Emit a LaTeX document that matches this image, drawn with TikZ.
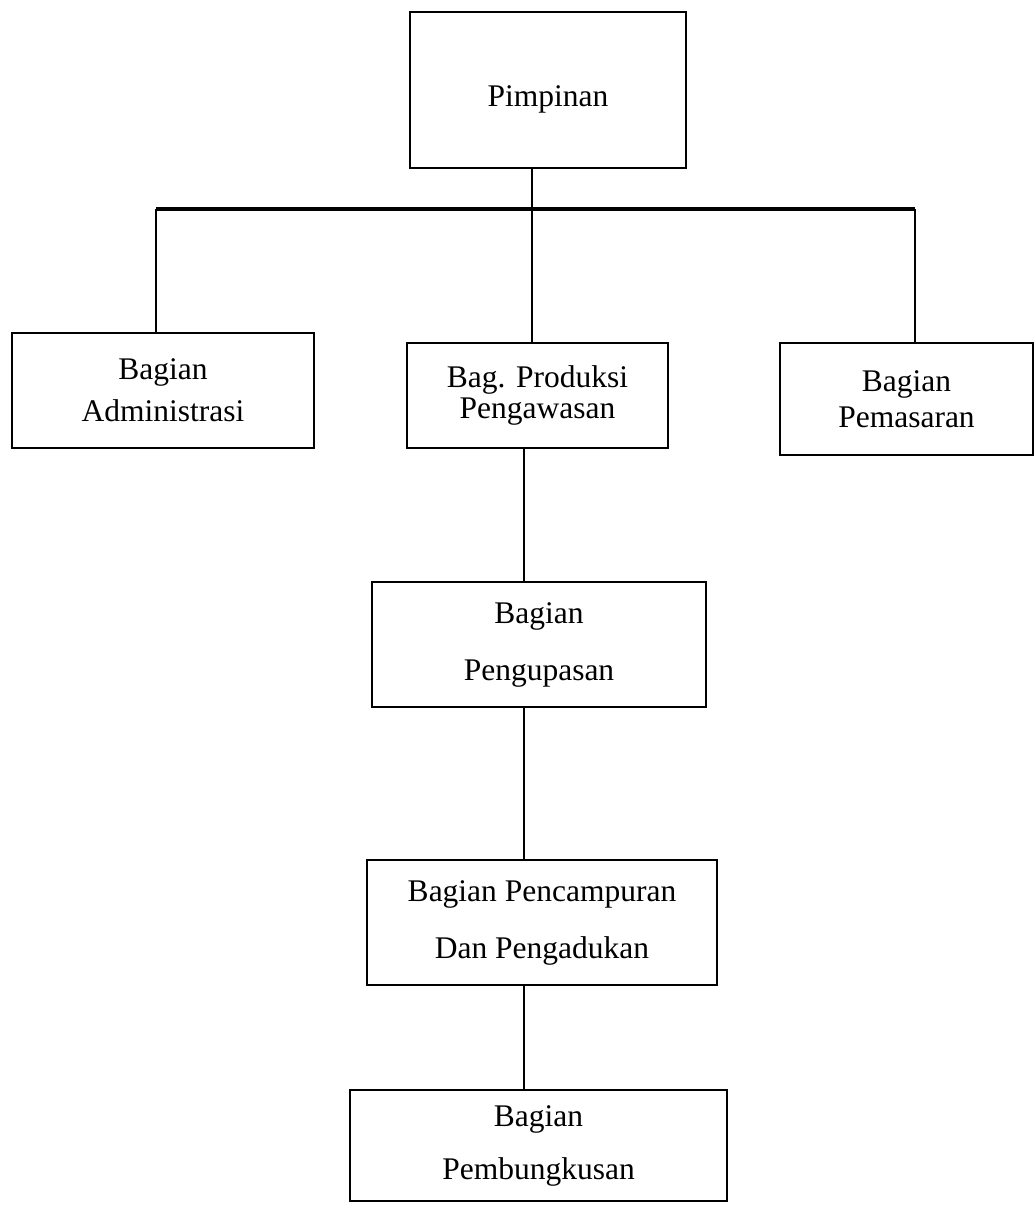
\documentclass[tikz,border=0pt]{standalone}
\usepackage{fontspec}
\setmainfont{Liberation Serif}
\usetikzlibrary{positioning}

\tikzset{
  unit/.style={draw,line width=1.4pt,inner sep=0pt,outer sep=0pt,align=center,
    font=\fontsize{22.4}{#1}\selectfont},
  unit/.default=27pt,
  link/.style={line width=1.1pt},
  bar/.style={line width=3.4pt},
}

\begin{document}
\begin{tikzpicture}[x=0.025cm,y=-0.025cm]
  \useasboundingbox (0,0) rectangle (1035,1206);
  % top
  \node[unit,text height=29pt,text depth=5pt,minimum width=6.9cm,minimum height=3.9cm] (pimpinan) at (548,90) {Pimpinan};
  % second row
  \node[unit=29.9pt,minimum width=7.55cm,minimum height=2.875cm] (admin) at (163,390.5) {Bagian\\Administrasi};
  \node[unit=22pt,minimum width=6.525cm,minimum height=2.625cm] (produksi) at (537.5,395.5) {Bag. Produksi\\Pengawasan};
  \node[unit=25.6pt,minimum width=6.325cm,minimum height=2.8cm] (pemasaran) at (906.5,399) {Bagian\\Pemasaran};
  % production line
  \node[unit=40.5pt,minimum width=8.35cm,minimum height=3.125cm] (pengupasan) at (539,644.5) {Bagian\\Pengupasan};
  \node[unit=40.5pt,minimum width=8.75cm,minimum height=3.125cm] (pencampuran) at (542,922.5) {Bagian Pencampuran\\Dan Pengadukan};
  \node[unit=37.7pt,minimum width=9.425cm,minimum height=2.775cm] (pembungkusan) at (538.5,1145.5) {Bagian\\Pembungkusan};

  \coordinate (barL) at (156,209);
  \coordinate (barR) at (915,209);
  \coordinate (midx) at (532,209);
  \coordinate (spine) at (524,0);

  \draw[bar] (barL) -- (barR);
  \draw[link] (pimpinan.south -| midx) -- (produksi.north -| midx);
  \draw[link] (barL) -- (admin.north -| barL);
  \draw[link] (barR) -- (pemasaran.north -| barR);
  \draw[link] (produksi.south -| spine) -- (pengupasan.north -| spine);
  \draw[link] (pengupasan.south -| spine) -- (pencampuran.north -| spine);
  \draw[link] (pencampuran.south -| spine) -- (pembungkusan.north -| spine);
\end{tikzpicture}
\end{document}
